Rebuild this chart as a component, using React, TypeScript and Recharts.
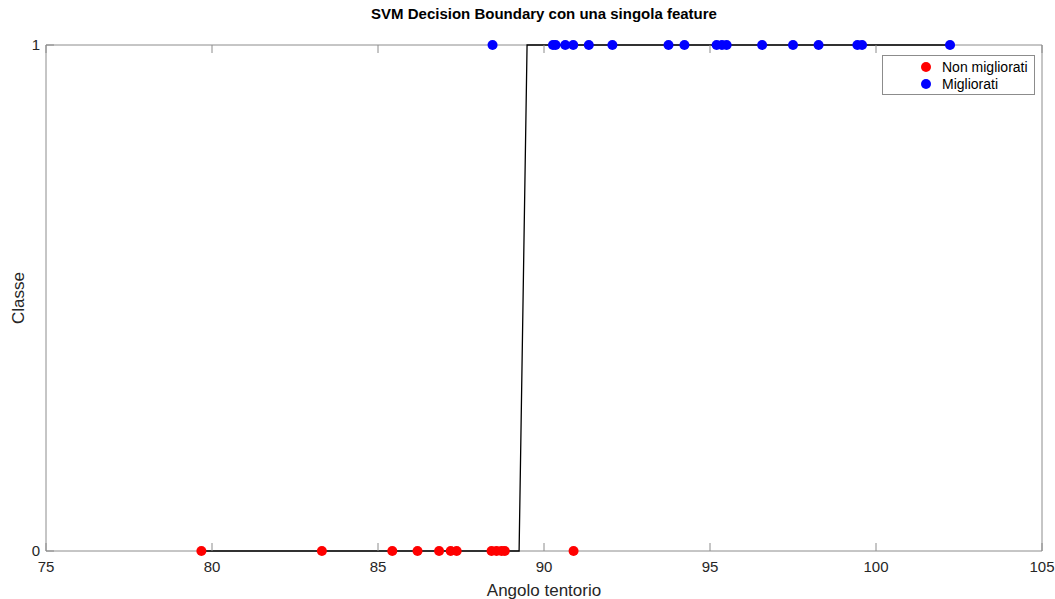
import React from 'react';
import { ComposedChart, Scatter, XAxis, YAxis, Legend, Label } from 'recharts';

const nonMigliorati = [79.68, 83.31, 85.43, 86.19, 86.84, 87.19, 87.37, 88.42, 88.57, 88.72, 88.82, 90.89];
const migliorati = [88.45, 90.27, 90.35, 90.64, 90.88, 91.35, 92.06, 93.75, 94.23, 95.2, 95.36, 95.5, 96.57, 97.5, 98.27, 99.44, 99.58, 102.23];
const boundaryX = [79.68, 89.25, 89.49, 102.23];
const boundaryY = [0, 0, 1, 1];
const xTicks = [75, 80, 85, 90, 95, 100, 105];
const yTicks = [0, 1];

const redData = nonMigliorati.map((x) => ({ x, y: 0 }));
const blueData = migliorati.map((x) => ({ x, y: 1 }));
const boundaryData = boundaryX.map((x, i) => ({ x, y: boundaryY[i] }));

const AXIS = '#8c8c8c';
const TEXT = '#262626';
const FONT = '"Liberation Sans", Arial, sans-serif';
const TL = 8;

const BottomTick = (props: any) => {
  const { x, y, payload } = props;
  return (
    <g>
      <line x1={x} y1={y} x2={x} y2={y - TL} stroke={AXIS} strokeWidth={1} />
      <text x={x} y={y + 21} textAnchor="middle" fill={TEXT} fontSize={15} fontFamily={FONT}>
        {payload.value}
      </text>
    </g>
  );
};
const TopTick = (props: any) => {
  const { x, y } = props;
  return <line x1={x} y1={y} x2={x} y2={y + TL} stroke={AXIS} strokeWidth={1} />;
};
const LeftTick = (props: any) => {
  const { x, y, payload } = props;
  return (
    <g>
      <line x1={x} y1={y} x2={x + TL} y2={y} stroke={AXIS} strokeWidth={1} />
      <text x={x - 6} y={y + 5} textAnchor="end" fill={TEXT} fontSize={15} fontFamily={FONT}>
        {payload.value}
      </text>
    </g>
  );
};
const RightTick = (props: any) => {
  const { x, y } = props;
  return <line x1={x} y1={y} x2={x - TL} y2={y} stroke={AXIS} strokeWidth={1} />;
};

const LegendBox = () => (
  <div
    style={{
      border: '1px solid #8c8c8c',
      background: '#fff',
      width: 153,
      height: 40,
      boxSizing: 'border-box',
      fontFamily: FONT,
      fontSize: 14,
      color: '#000',
      padding: '2px 0 0 0',
    }}
  >
    {[
      { c: '#ff0000', t: 'Non migliorati' },
      { c: '#0000ff', t: 'Migliorati' },
    ].map((e) => (
      <div key={e.t} style={{ display: 'flex', alignItems: 'center', height: 17 }}>
        <span
          style={{
            display: 'inline-block',
            width: 10,
            height: 10,
            borderRadius: 5,
            background: e.c,
            marginLeft: 38,
            marginRight: 11,
          }}
        />
        <span>{e.t}</span>
      </div>
    ))}
  </div>
);

const emptyShape = () => <g />;

export default function App() {
  return (
    <div style={{ position: 'absolute', left: 0, top: 0, width: 1055, height: 599, background: '#fff' }}>
      <div
        style={{
          position: 'absolute',
          left: 46,
          width: 996,
          top: 5,
          textAlign: 'center',
          fontFamily: FONT,
          fontWeight: 'bold',
          fontSize: 15,
          color: '#000',
        }}
      >
        SVM Decision Boundary con una singola feature
      </div>
      <ComposedChart width={1055} height={599} margin={{ top: 44, right: 12, bottom: 0, left: 0 }}>
        <XAxis
          xAxisId="b"
          dataKey="x"
          type="number"
          domain={[75, 105]}
          ticks={xTicks}
          allowDataOverflow
          height={48}
          tickSize={0}
          tickMargin={0}
          tickLine={false}
          axisLine={{ stroke: AXIS }}
          tick={<BottomTick />}
        >
          <Label
            value="Angolo tentorio"
            position="insideBottom"
            offset={3}
            style={{ fontFamily: FONT, fontSize: 17, fill: TEXT }}
          />
        </XAxis>
        <XAxis
          xAxisId="t"
          orientation="top"
          dataKey="x"
          type="number"
          domain={[75, 105]}
          ticks={xTicks}
          allowDataOverflow
          height={1}
          tickSize={0}
          tickMargin={0}
          tickLine={false}
          axisLine={{ stroke: AXIS }}
          tick={<TopTick />}
        />
        <YAxis
          yAxisId="l"
          dataKey="y"
          type="number"
          domain={[0, 1]}
          ticks={yTicks}
          width={46}
          tickSize={0}
          tickMargin={0}
          tickLine={false}
          axisLine={{ stroke: AXIS }}
          tick={<LeftTick />}
        >
          <Label
            value="Classe"
            angle={-90}
            position="insideLeft"
            offset={18}
            style={{ fontFamily: FONT, fontSize: 17, fill: TEXT, textAnchor: 'middle' }}
          />
        </YAxis>
        <YAxis
          yAxisId="r"
          orientation="right"
          dataKey="y"
          type="number"
          domain={[0, 1]}
          ticks={yTicks}
          width={1}
          tickSize={0}
          tickMargin={0}
          tickLine={false}
          axisLine={{ stroke: AXIS }}
          tick={<RightTick />}
        />
        <Scatter
          xAxisId="b"
          yAxisId="l"
          data={boundaryData}
          line={{ stroke: '#000', strokeWidth: 1.3 }}
          shape={emptyShape}
          legendType="none"
          isAnimationActive={false}
        />
        <Scatter
          name="Non migliorati"
          xAxisId="b"
          yAxisId="l"
          data={redData}
          fill="#ff0000"
          shape={(p: any) => <circle cx={p.cx} cy={p.cy} r={5} fill="#ff0000" />}
          isAnimationActive={false}
        />
        <Scatter
          name="Migliorati"
          xAxisId="b"
          yAxisId="l"
          data={blueData}
          fill="#0000ff"
          shape={(p: any) => <circle cx={p.cx} cy={p.cy} r={5} fill="#0000ff" />}
          isAnimationActive={false}
        />
        <Legend
          layout="horizontal"
          verticalAlign="middle"
          align="center"
          content={<LegendBox />}
          wrapperStyle={{ top: 55, left: 882, width: 153, height: 40 }}
        />
      </ComposedChart>
    </div>
  );
}
